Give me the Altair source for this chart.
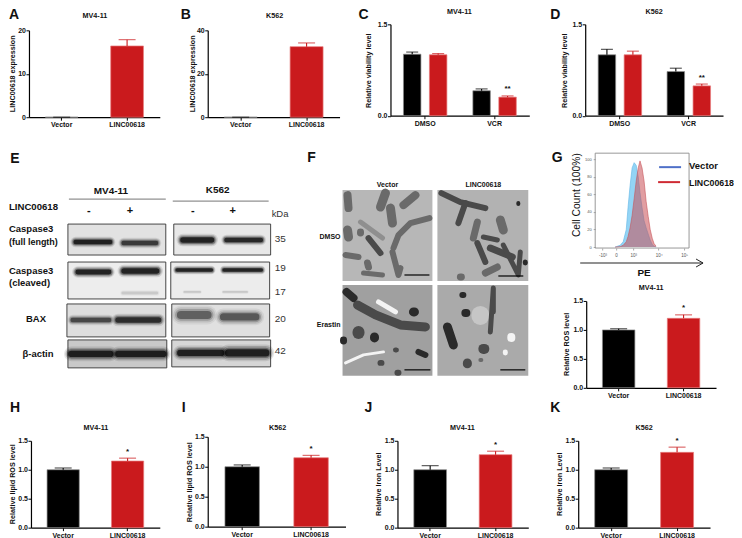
import altair as alt

FONT = "Liberation Sans"
BLACK = "#000000"
RED = "#ca1a1d"
CATS = ["Vector", "LINC00618"]
GROUPS = ["DMSO", "VCR"]

A_MEAN, A_TOP = [0, 16.4], [0, 17.85]
B_MEAN, B_TOP = [0, 32.5], [0, 34.2]
C_MEAN, C_TOP = [1.01, 1.0, 0.41, 0.305], [1.045, 1.02, 0.44, 0.325]
D_MEAN, D_TOP = [1.0, 1.0, 0.725, 0.49], [1.09, 1.06, 0.78, 0.52]
G_MEAN, G_TOP = [1.0, 1.2], [1.02, 1.26]
H_MEAN, H_TOP = [1.0, 1.15], [1.03, 1.2]
I_MEAN, I_TOP = [1.0, 1.15], [1.03, 1.19]
J_MEAN, J_TOP = [1.0, 1.26], [1.07, 1.32]
K_MEAN, K_TOP = [1.0, 1.3], [1.03, 1.39]

# Flow histogram (decades on x, % of max on y)
FLOW_U = [2.29, 2.49, 2.61, 2.73, 2.80, 2.88, 2.96, 3.04, 3.12, 3.20, 3.27, 3.35, 3.43, 3.51, 3.59, 3.67, 3.75, 3.82, 3.90]
FLOW_VEC = [0, 2, 6, 20, 45, 70, 90, 96, 93, 80, 62, 45, 30, 22, 15, 8, 3, 1, 0]
FLOW_LNC = [0, 0.5, 2, 6, 12, 22, 36, 55, 75, 90, 98, 90, 75, 52, 35, 20, 10, 4, 1]
FLOW_TICKS = [1.8, 2.33, 3, 4, 5]

# Western-blot frames (x1, x2, y1, y2, grey), read in picture units
BLOT_FRAMES = [
    (67, 165, 224, 255, "#e2e2e2"), (173, 270, 224, 255, "#e8e8e8"),
    (67, 165, 262, 299, "#ededed"), (170, 269, 262, 299, "#ececec"),
    (66, 165, 304, 337, "#dedede"), (171, 269, 304, 337, "#e0e0e0"),
    (67, 166, 340, 368, "#c9c9c9"), (171, 270, 340, 367, "#d6d6d6"),
]
# Bands (x1, x2, y, thickness, darkness)
BLOT_BANDS = [
    (73, 111, 242, 5, 1.0), (121, 157, 243, 5, 0.8), (180, 213, 240, 6, 1.0), (224, 262, 240, 5, 0.95),
    (75, 110, 272, 5.5, 1.0), (121, 158, 271, 6, 1.0), (121, 157, 293, 3, 0.12), (183, 200, 292, 2, 0.12), (222, 247, 292, 2, 0.12),
    (175, 212, 270, 4, 1.0), (222, 262, 270, 4, 1.0),
    (70, 110, 320, 5, 0.7), (115, 160, 320, 6, 0.9), (177, 210, 315, 9, 0.55), (220, 258, 317, 8, 0.6),
    (68, 112, 354, 7, 1.0), (115, 165, 354, 7, 1.0), (177, 223, 353, 7, 1.0), (225, 268, 353, 8, 1.0),
]

# Electron micrographs: frames and mitochondria traced as strokes
EM_FRAMES = [(342, 432, 190, 281, "#b7b7b7"), (437, 528, 190, 281, "#b2b2b2"),
             (342, 432, 285, 376, "#a0a0a0"), (437, 528, 285, 376, "#aaaaaa")]
M1, M2, M3, LT, WH = "#6a6a6a", "#4a4a4a", "#2a2a2a", "#8f8f8f", "#f4f4f4"
EM_SHAPES = [
    (M1, 8, [(347, 195), (348, 208)]), (M1, 9, [(385, 193), (380, 207)]), (M1, 8, [(415, 195), (403, 205)]),
    (M1, 9, [(390, 208), (392, 223)]), (M1, 6, [(429, 218), (410, 223), (398, 235), (393, 248)]),
    (LT, 5, [(360, 222), (382, 238)]), (M1, 9, [(347, 230), (348, 237)]), (M1, 7, [(360, 232), (360, 233)]),
    (M2, 6, [(368, 238), (380, 253)]), (M1, 6, [(345, 255), (358, 257)]), (M1, 6, [(392, 252), (400, 268), (398, 275)]),
    (M1, 7, [(367, 263), (368, 267)]), (M1, 5, [(363, 273), (382, 275)]),
    (M2, 6, [(441, 193), (460, 202), (485, 208)]), (M2, 6, [(465, 203), (458, 223)]), (M1, 9, [(500, 220), (503, 230)]),
    (M1, 7, [(477, 222), (473, 238)]), (M2, 5, [(483, 237), (497, 240)]), (M2, 6, [(477, 243), (485, 262)]),
    (M2, 7, [(490, 248), (512, 257)]), (M2, 5, [(503, 245), (520, 252), (518, 275)]), (M1, 7, [(485, 273), (497, 267)]),
    (M3, 5, [(525, 262), (525, 263)]), (M3, 4, [(518, 203), (518, 204)]), (M1, 7, [(460, 277), (461, 277)]),
    (M3, 8, [(346, 292), (353, 298)]), (M2, 9, [(357, 305), (375, 315), (400, 325), (425, 327)]),
    (WH, 3, [(345, 363), (363, 355), (383, 352)]), (WH, 5, [(378, 302), (395, 312)]), (M3, 9, [(413, 312), (414, 312)]),
    (M2, 12, [(358, 332), (358, 333)]), (M3, 9, [(374, 337), (374, 338)]), (M3, 7, [(343, 340), (343, 341)]),
    (M2, 5, [(395, 350), (396, 350)]), (M3, 6, [(418, 352), (425, 355)]), (M2, 6, [(380, 363), (381, 363)]), (M2, 6, [(397, 373), (398, 373)]),
    (M2, 5, [(493, 288), (493, 312), (490, 332)]), (M3, 6, [(462, 295), (463, 295)]), (M3, 8, [(465, 313), (466, 313)]),
    (M3, 9, [(447, 327), (453, 345)]), (M2, 10, [(483, 349), (484, 349)]), (M2, 9, [(467, 363), (467, 364)]),
    (WH, 8, [(511, 337), (511, 338)]), (WH, 5, [(505, 352), (505, 353)]), (M1, 4, [(480, 360), (481, 360)]),
    ("#c6c6c6", 18, [(480, 315), (480, 316)]),
]
EM_BARS = [(404, 429, 275), (498, 523, 276), (404, 430, 370), (500, 525, 370)]

ONE = [{"a": 0}]


def spacer(w, h=1):
    return alt.Chart(alt.Data(values=ONE)).mark_point(opacity=0, size=0.5).encode(x=alt.value(0.5), y=alt.value(0.5)).properties(width=w, height=h)


def note(text, x, y, size=7.2, weight="bold", align="center", angle=0, color="#111111"):
    return alt.Chart(alt.Data(values=[{"t": text}])).mark_text(
        font=FONT, fontSize=size, fontWeight=weight, align=align, baseline="middle", angle=angle, color=color
    ).encode(text="t:N", x=alt.value(x), y=alt.value(y))


def bar_panel(title, tpos, ylab, lab_pos, means, tops, domain, ticks, w, h, rng, stars=None, axis_off=0,
              letter=None, grouped=False, legend=None, fmt=None):
    if grouped:
        rows = [{"g": GROUPS[i // 2], "s": CATS[i % 2], "m": means[i], "t": tops[i], "k": ""} for i in range(4)]
        x = alt.X("g:N", scale=alt.Scale(domain=GROUPS, paddingInner=0, paddingOuter=0),
                  axis=alt.Axis(title=None, labelAngle=0, offset=axis_off))
        off = {"xOffset": alt.XOffset("s:N", scale=alt.Scale(domain=CATS, paddingInner=0.327, paddingOuter=0.5))}
        cap = 12
        field = "s:N"
    else:
        rows = [{"g": CATS[i], "s": CATS[i], "m": means[i], "t": tops[i], "k": ""} for i in range(2)]
        x = alt.X("g:N", scale=alt.Scale(domain=CATS, paddingInner=0.5, paddingOuter=0.25),
                  axis=alt.Axis(title=None, labelAngle=0, offset=axis_off))
        off = {}
        cap = 17
        field = "s:N"
    if stars:
        for i, s in stars.items():
            rows[i]["k"] = s
    y = alt.Y("m:Q", scale=alt.Scale(domain=domain, range=rng, nice=False, zero=True),
              axis=alt.Axis(title=ylab, values=ticks, format=fmt or "d", titleX=lab_pos[0], titleY=lab_pos[1],
                            titleAlign="center", titleBaseline="middle", titleAngle=-90))
    col_scale = alt.Scale(domain=CATS, range=[BLACK, RED])
    stk_scale = alt.Scale(domain=CATS, range=["#8c8c8c", "#e67a7c"])
    leg = None
    if legend:
        leg = alt.Legend(title=None, orient="none", legendX=legend[0], legendY=legend[1],
                         symbolType="M-1,-0.55H1V0.55H-1Z", symbolSize=32, symbolStrokeWidth=0,
                         labelFont=FONT, labelFontSize=7.6, labelFontWeight=legend[2], labelOffset=3,
                         rowPadding=2.5, labelColor="#222222")
    base = alt.Chart(alt.Data(values=rows))
    bars = base.mark_bar(strokeWidth=0.7).encode(
        x=x, y=y, fill=alt.Fill(field, scale=col_scale, legend=leg),
        stroke=alt.Stroke(field, scale=stk_scale, legend=None), **off)
    err = base.mark_rule(strokeWidth=1.1).encode(
        x=x, y=alt.Y("m:Q"), y2=alt.Y2("t:Q"), color=alt.Color(field, scale=col_scale, legend=None), **off)
    caps = base.mark_tick(size=cap, thickness=1.1).encode(
        x=x, y=alt.Y("t:Q"), color=alt.Color(field, scale=col_scale, legend=None), **off)
    star = base.transform_filter("datum.k != ''").mark_text(
        font=FONT, fontSize=8, fontWeight="bold", dy=-2.5, baseline="bottom", color="#111111", lineHeight=8
    ).encode(x=x, y=alt.Y("t:Q"), text="k:N", **off)
    layers = [bars, err, caps, star, note(title, tpos[0], tpos[1])]
    if letter:
        layers.append(note(letter[0], letter[1], letter[2], size=14))
    return alt.layer(*layers).properties(width=w, height=h)


def px_scale(lo, hi):
    return alt.Scale(domain=[lo, hi], nice=False, zero=False)


def blot_panel():
    x0, x1, y0, y1 = 28, 342, 124, 388
    xs, ys = px_scale(x0, x1), px_scale(y1, y0)
    fr = [{"a": f[0], "b": f[1], "c": f[2], "d": f[3], "f": f[4]} for f in BLOT_FRAMES]
    frames = alt.Chart(alt.Data(values=fr)).mark_rect(stroke="#333333", strokeWidth=0.9).encode(
        x=alt.X("a:Q", scale=xs, axis=None), x2="b:Q", y=alt.Y("c:Q", scale=ys, axis=None), y2="d:Q",
        fill=alt.Fill("f:N", scale=None))
    halos = []
    for (a, b, yy, t, d) in BLOT_BANDS:
        for k, op in [(2.1, 0.10), (1.7, 0.18), (1.3, 0.32), (0.9, 0.7)]:
            halos.append({"a": a + t * 0.35, "b": b - t * 0.35, "y": yy, "w": t * k, "o": op * d})
    bands = alt.Chart(alt.Data(values=halos)).mark_rule(strokeCap="round", color="#000000").encode(
        x=alt.X("a:Q", scale=xs, axis=None), x2="b:Q", y=alt.Y("y:Q", scale=ys, axis=None),
        strokeWidth=alt.StrokeWidth("w:Q", scale=None), opacity=alt.Opacity("o:Q", scale=None))
    lines = alt.Chart(alt.Data(values=[{"a": 68, "b": 165, "y": 199}, {"a": 172, "b": 268, "y": 201}])).mark_rule(
        color="#666666", strokeWidth=0.9).encode(
        x=alt.X("a:Q", scale=xs, axis=None), x2="b:Q", y=alt.Y("y:Q", scale=ys, axis=None))
    N = lambda t, x, y, **k: note(t, x - x0, y - y0, **k)
    txt = [
        N("E", 14, 159, size=14),
        N("MV4-11", 110, 191, size=10), N("K562", 217, 190, size=10),
        N("LINC00618", 8, 207, size=9.6, align="left"),
        N("-", 88, 211, size=11), N("+", 129, 211, size=11), N("-", 192, 211, size=11), N("+", 232, 211, size=11),
        N("kDa", 271, 214, size=9.5, weight="normal", align="left", color="#333333"),
        N("Caspase3", 8, 229, size=9.5, align="left"), N("(full length)", 8, 242, size=9, align="left"),
        N("Caspase3", 8, 271, size=9.5, align="left"), N("(cleaved)", 8, 283, size=9.5, align="left"),
        N("BAX", 35, 319, size=9.5), N("β-actin", 37, 354, size=9.5),
        N("35", 274, 239, size=10, weight="normal", align="left", color="#333333"),
        N("19", 274, 268, size=10, weight="normal", align="left", color="#333333"),
        N("17", 274, 292, size=10, weight="normal", align="left", color="#333333"),
        N("20", 274, 319, size=10, weight="normal", align="left", color="#333333"),
        N("42", 274, 351, size=10, weight="normal", align="left", color="#333333"),
    ]
    return alt.layer(frames, bands, lines, *txt).properties(width=x1 - x0, height=y1 - y0)


def em_panel():
    x0, x1, y0, y1 = 342, 530, 124, 388
    xs, ys = px_scale(x0, x1), px_scale(y1, y0)
    fr = [{"a": f[0], "b": f[1], "c": f[2], "d": f[3], "f": f[4]} for f in EM_FRAMES]
    frames = alt.Chart(alt.Data(values=fr)).mark_rect().encode(
        x=alt.X("a:Q", scale=xs, axis=None), x2="b:Q", y=alt.Y("c:Q", scale=ys, axis=None), y2="d:Q",
        fill=alt.Fill("f:N", scale=None))
    layers = [frames]
    order = sorted(range(len(EM_SHAPES)), key=lambda i: -EM_SHAPES[i][1])
    for i in order:
        c, w, pts = EM_SHAPES[i]
        rows = [{"x": p[0], "y": p[1]} for p in pts]
        layers.append(alt.Chart(alt.Data(values=rows)).mark_line(color=c, strokeWidth=w, strokeCap="round", strokeJoin="round").encode(
            x=alt.X("x:Q", scale=xs, axis=None), y=alt.Y("y:Q", scale=ys, axis=None)))
    bars = alt.Chart(alt.Data(values=[{"a": b[0], "b": b[1], "y": b[2]} for b in EM_BARS])).mark_rule(color="#000000", strokeWidth=1.2).encode(
        x=alt.X("a:Q", scale=xs, axis=None), x2="b:Q", y=alt.Y("y:Q", scale=ys, axis=None))
    layers.append(bars)
    N = lambda t, x, y, **k: note(t, x - x0, y - y0, **k)
    layers += [N("F", 311, 158, size=14), N("Vector", 387, 185, size=7), N("LINC00618", 483, 185, size=7),
               N("DMSO", 340, 237, size=7, align="right"), N("Erastin", 340, 325, size=7, align="right")]
    return alt.layer(*layers).properties(width=x1 - x0, height=y1 - y0)


def flow_panel():
    xs = alt.Scale(domain=[1.51, 5.196], nice=False, zero=False)
    ys = alt.Scale(domain=[-1.1, 106.8], range=[124, 29], nice=False, zero=False)
    rows = [{"u": u, "v": v, "l": l} for u, v, l in zip(FLOW_U, FLOW_VEC, FLOW_LNC)]
    base = alt.Chart(alt.Data(values=rows))
    xax = alt.Axis(title=None, values=FLOW_TICKS, domain=False, tickSize=2, tickWidth=0.5, tickColor="#555555", labelFontSize=4.5,
                   labelFontWeight="normal", labelColor="#555555", labelPadding=2,
                   labelExpr="datum.value<2?'-10³':datum.value<3?'0':datum.value<3.5?'10³':datum.value<4.5?'10⁴':'10⁵'")
    yax = alt.Axis(title=None, values=[0, 20, 40, 60, 80, 100], domain=False, tickSize=2, tickWidth=0.5, tickColor="#555555", labelFontSize=4,
                   labelFontWeight="normal", labelColor="#555555", labelPadding=2)
    a1 = base.mark_area(color="#6fc6f2", opacity=0.75, line={"color": "#5fb6e6", "strokeWidth": 0.6}).encode(
        x=alt.X("u:Q", scale=xs, axis=xax), y=alt.Y("v:Q", scale=ys, axis=yax), y2=alt.Y2(datum=0))
    a2 = base.mark_area(color="#c94f55", opacity=0.55, line={"color": "#c8565a", "strokeWidth": 0.6}).encode(
        x=alt.X("u:Q", scale=xs, axis=xax), y=alt.Y("l:Q", scale=ys, axis=yax), y2=alt.Y2(datum=0))
    frame = alt.Chart(alt.Data(values=[{"a": 1.51, "b": 5.196, "c": -1.1, "d": 106.8}])).mark_rect(
        fillOpacity=0, stroke="#8c8c8c", strokeWidth=0.9).encode(
        x=alt.X("a:Q", scale=xs, axis=xax), x2="b:Q", y=alt.Y("c:Q", scale=ys, axis=yax), y2="d:Q")

    def seg(x, x2, y, y2, color="#222222", sw=1.0):
        return alt.Chart(alt.Data(values=ONE)).mark_rule(color=color, strokeWidth=sw).encode(
            x=alt.value(x), x2=alt.value(x2), y=alt.value(y), y2=alt.value(y2))

    return alt.layer(
        frame, a1, a2,
        seg(64, 86, 43, 43, "#4f70c8", 2), seg(63, 85, 58, 58, "#cf2a33", 2),
        note("Vector", 94, 42, size=9.5, align="left"), note("LINC00618", 94, 59, size=8.8, align="left"),
        seg(-15, 108, 139, 139), seg(108, 101, 139, 135), seg(108, 101, 139, 143),
        note("PE", 49, 149, size=10), note("G", -38, 34, size=14),
        note("Cell Count  (100%)", -18, 71, size=10.3, weight="normal", angle=270),
    ).properties(width=94, height=124)


LOG = dict(spacing=0, bounds="flush")
A = bar_panel("MV4-11", (66, 8), "LINC00618 expression", (-16.5, 65), A_MEAN, A_TOP, [0, 20], [0, 5, 10, 15, 20], 131, 109, [109, 22],
              letter=("A", -15, 7))
B = bar_panel("K562", (67, 8), "LINC00618 expression", (-15, 65), B_MEAN, B_TOP, [0, 40], [0, 10, 20, 30, 40], 132, 109, [109, 22],
              letter=("B", -22, 7))
C = bar_panel("MV4-11", (69, 4), "Relative viability level", (-22, 62), C_MEAN, C_TOP, [0, 1.5], [0, 0.5, 1, 1.5], 139, 109, [107.5, 16],
              grouped=True, stars={3: "**"}, axis_off=-1.5, legend=(83, 15, "normal"), fmt=".1f", letter=("C", -27, 7))
D = bar_panel("K562", (69, 4), "Relative viability level", (-21, 62), D_MEAN, D_TOP, [0, 1.5], [0, 0.5, 1, 1.5], 138, 109, [107.5, 16],
              grouped=True, stars={3: "**"}, axis_off=-1.5, legend=(83, 13, "bold"), fmt=".1f", letter=("D", -30, 7))
row1 = alt.hconcat(A, spacer(48), B, spacer(51), C, spacer(56), D, **LOG)

G2 = bar_panel("MV4-11", (65, 40), "Relative ROS level", (-20, 96), G_MEAN, G_TOP, [0, 1.5], [0, 0.5, 1, 1.5], 130, 140, [140, 53],
               stars={1: "*"}, fmt=".1f")
Gcol = alt.vconcat(alt.hconcat(spacer(9), flow_panel(), **LOG), spacer(1, 124), G2, **LOG)
row2 = alt.hconcat(blot_panel(), em_panel(), spacer(56), Gcol, **LOG)

H = bar_panel("MV4-11", (65, 33), "Relative lipid ROS level", (-18.5, 89), H_MEAN, H_TOP, [0, 1.5], [0, 0.5, 1, 1.5], 129, 133, [133, 46],
              stars={1: "*"}, fmt=".1f", letter=("H", -16, 13))
I = bar_panel("K562", (70, 33), "Relative lipid ROS level", (-18, 87), I_MEAN, I_TOP, [0, 1.5], [0, 0.5, 1, 1.5], 138, 133, [132, 42],
              stars={1: "*"}, axis_off=-1, fmt=".1f", letter=("I", -24, 13))
J = bar_panel("MV4-11", (65, 33), "Relative Iron Level", (-19, 89), J_MEAN, J_TOP, [0, 1.5], [0, 0.5, 1, 1.5], 131, 133, [133, 46],
              stars={1: "*"}, fmt=".1f", letter=("J", -29, 13))
K = bar_panel("K562", (66, 33), "Relative Iron Level", (-19, 89), K_MEAN, K_TOP, [0, 1.5], [0, 0.5, 1, 1.5], 132, 133, [133, 46],
              stars={1: "*"}, fmt=".1f", letter=("K", -23, 13))
row3 = alt.hconcat(spacer(2), H, spacer(48), I, spacer(52), J, spacer(50), K, **LOG)

chart = alt.vconcat(row1, spacer(1, 116), row2, spacer(1, 271), row3, spacing=0, bounds="flush").properties(padding=0).configure_view(stroke=None).configure_axis(
    grid=False, domainColor="#000000", domainWidth=1.2, tickColor="#000000", tickWidth=1, tickSize=3,
    labelFont=FONT, labelFontSize=7, labelFontWeight="bold", labelColor="#111111", labelPadding=0.5,
    titleFont=FONT, titleFontSize=7.2, titleFontWeight="bold", titleColor="#111111",
).configure_text(font=FONT)

chart.save("out.html", embed_options={"renderer": "svg", "actions": False})
